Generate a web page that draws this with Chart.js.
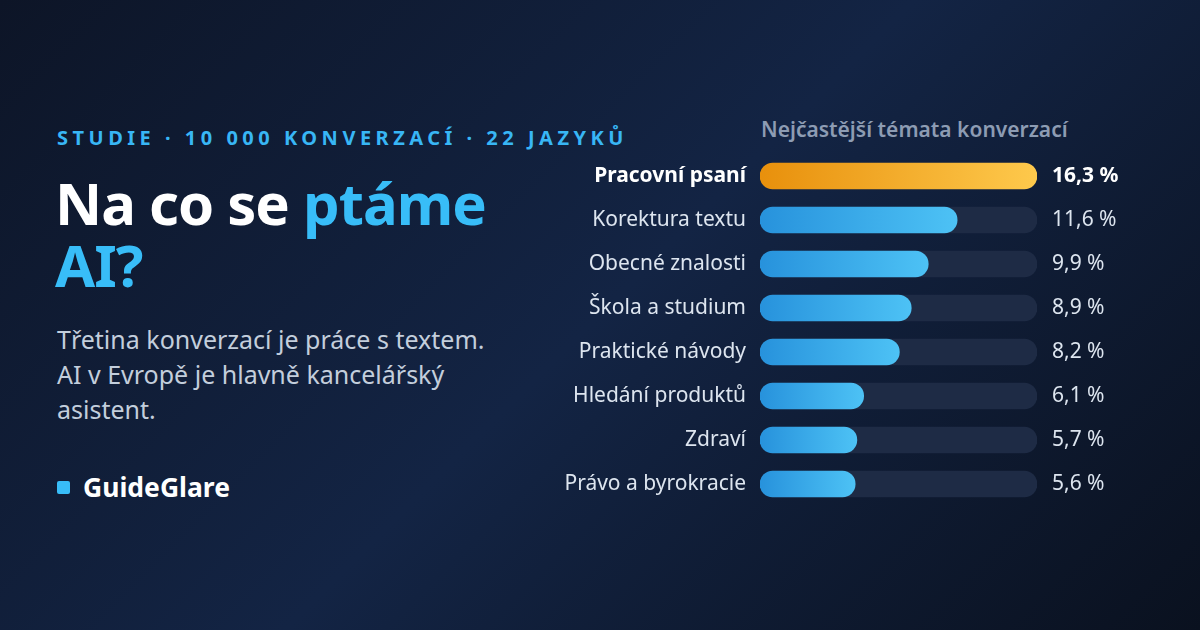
<!DOCTYPE html>
<html lang="cs">
<head>
<meta charset="utf-8">
<script src="https://cdn.jsdelivr.net/npm/chart.js@4"></script>
<style>
  html, body { margin: 0; padding: 0; }
  body {
    width: 1200px; height: 630px; overflow: hidden; position: relative;
    font-family: "Noto Sans", sans-serif;
    background: linear-gradient(135deg, #0d1527 0%, #132444 50%, #0a111f 100%);
  }
  .kicker {
    position: absolute; left: 57px; top: 124px;
    font-size: 20px; font-weight: 700; letter-spacing: 4.5px; color: #38b6f5;
  }
  h1 {
    position: absolute; left: 55px; top: 172px; margin: 0;
    font-size: 58px; line-height: 62px; font-weight: 700; color: #ffffff; letter-spacing: -1px;
  }
  h1 span { color: #38bdf8; }
  .lead {
    position: absolute; left: 57px; top: 322px; width: 445px; margin: 0;
    font-size: 25px; line-height: 35px; color: #c3cedc;
  }
  .brand {
    position: absolute; left: 57px; top: 469px;
    font-size: 26.5px; font-weight: 700; color: #fff;
  }
  .brand i {
    display: inline-block; width: 13px; height: 13px; border-radius: 2px;
    background: #38bdf8; margin-right: 13px; vertical-align: 3px;
  }
  .chart-title {
    position: absolute; left: 761px; top: 115px;
    font-size: 21px; font-weight: 600; color: #8d9cb3;
  }
  #wrap { position: absolute; left: 540px; top: 154px; width: 597px; height: 352px; }
</style>
</head>
<body>
<div class="kicker">STUDIE · 10 000 KONVERZACÍ · 22 JAZYKŮ</div>
<h1>Na co se <span>ptáme</span><br><span>AI?</span></h1>
<p class="lead">Třetina konverzací je práce s textem. AI v Evropě je hlavně kancelářský asistent.</p>
<div class="brand"><i></i>GuideGlare</div>
<div class="chart-title">Nejčastější témata konverzací</div>
<div id="wrap"><canvas id="topics"></canvas></div>
<script>
const topics = ["Pracovní psaní", "Korektura textu", "Obecné znalosti", "Škola a studium",
                "Praktické návody", "Hledání produktů", "Zdraví", "Právo a byrokracie"];
const shares = [16.3, 11.6, 9.9, 8.9, 8.2, 6.1, 5.7, 5.6];
const shareLabels = ["16,3 %", "11,6 %", "9,9 %", "8,9 %", "8,2 %", "6,1 %", "5,7 %", "5,6 %"];
const trackMax = 16.3;

function barFill(ctx) {
    const chart = ctx.chart;
    if (!chart.chartArea) return '#2f9be6';
    const x = chart.scales.x;
    const x0 = x.getPixelForValue(0);
    const x1 = x.getPixelForValue(ctx.raw);
    const g = chart.ctx.createLinearGradient(x0, 0, x1, 0);
    if (ctx.dataIndex === 0) {
        g.addColorStop(0, '#e8900c');
        g.addColorStop(1, '#fec94c');
    } else {
        g.addColorStop(0, '#2792dc');
        g.addColorStop(1, '#4dc2f5');
    }
    return g;
}

const labelFont = ctx => ctx.index === 0
    ? { family: 'Noto Sans', size: 21, weight: 'bold' }
    : { family: 'Noto Sans', size: 21 };
const labelColor = ctx => ctx.index === 0 ? '#ffffff' : '#dde5ef';

// keep the rows on a fixed 44px pitch: drop the vertical padding the tick labels add
function fixWidth(w) {
    return s => { s.width = w; s.paddingTop = 0; s.paddingBottom = 0; };
}

new Chart(document.getElementById('topics'), {
    type: 'bar',
    data: {
        labels: topics,
        datasets: [{
            data: shares,
            backgroundColor: barFill,
            borderRadius: 13,
            borderSkipped: false,
            barThickness: 26,
            grouped: false,
            order: 0
        }, {
            data: topics.map(() => trackMax),
            backgroundColor: '#1e2b45',
            borderRadius: 13,
            borderSkipped: false,
            barThickness: 26,
            grouped: false,
            order: 1
        }]
    },
    options: {
        indexAxis: 'y',
        responsive: true,
        maintainAspectRatio: false,
        animation: false,
        layout: { padding: 0 },
        plugins: { legend: { display: false }, tooltip: { enabled: false } },
        scales: {
            x: { min: 0, max: trackMax, display: false },
            y: {
                grid: { display: false, drawTicks: false }, border: { display: false },
                afterFit: fixWidth(220),
                ticks: { padding: 14, font: labelFont, color: labelColor }
            },
            y2: {
                position: 'right', offset: true,
                grid: { display: false, drawTicks: false }, border: { display: false },
                afterFit: fixWidth(100),
                ticks: {
                    padding: 15, font: labelFont, color: labelColor,
                    callback: (v, i) => shareLabels[i]
                }
            }
        }
    }
});
</script>
</body>
</html>
